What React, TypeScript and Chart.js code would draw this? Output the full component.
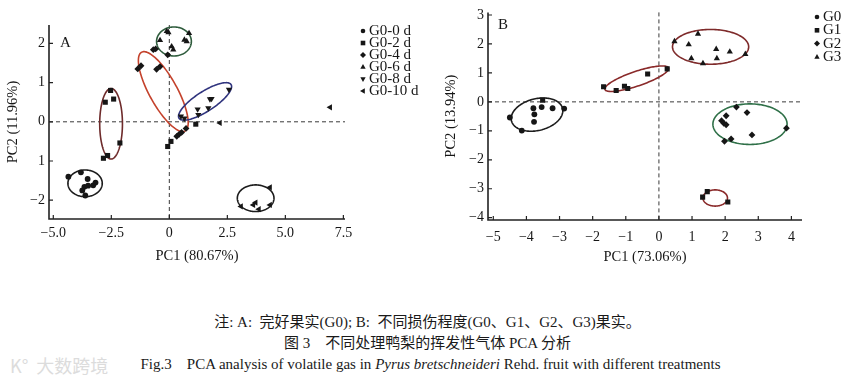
import React, { useEffect, useRef } from 'react';
import { Chart, registerables } from 'chart.js';

Chart.register(...registerables);

// ---------- Panel A data (PC1, PC2) ----------
const labelsA = ['G0-0 d', 'G0-2 d', 'G0-4 d', 'G0-6 d', 'G0-8 d', 'G0-10 d'];
const a0d = [[-4.35, -1.40], [-3.81, -1.29], [-3.52, -1.46], [-3.50, -1.63], [-3.66, -1.66], [-3.28, -1.62], [-3.18, -1.55], [-3.62, -1.88], [-3.75, -1.75]];
const a2d = [[-2.53, 0.80], [-2.76, 0.50], [-2.40, 0.58], [-2.13, -0.54], [-2.84, -0.93], [-2.66, -0.86], [-0.07, -0.63], [0.07, -0.50], [1.14, -0.06]];
const a4d = [[-1.36, 1.35], [-1.22, 1.43], [-0.55, 1.34], [-0.40, 1.41], [-0.69, 1.84], [-0.59, 1.86], [-0.07, 1.71], [0.32, -0.37], [0.42, -0.32], [0.53, -0.27], [0.72, -0.17]];
const a6d = [[-0.11, 2.31], [-0.04, 2.28], [-0.40, 2.08], [0.10, 1.92], [0.17, 1.84], [0.65, 2.09], [0.75, 2.05], [0.85, 2.26]];
const a8d = [[0.50, 0.14], [0.65, 0.09], [1.22, 0.32], [1.25, 0.18], [1.68, 0.35], [1.82, 0.59], [1.75, 0.58], [2.57, 0.82]];
const a10d = [[2.18, -0.03], [6.93, 0.37], [3.09, -2.16], [3.62, -2.12], [3.72, -2.06], [3.86, -2.23], [4.34, -2.12], [4.34, -1.67]];
const xTicksA = [-5, -2.5, 0, 2.5, 5, 7.5];
const xTickLabelsA = ['\u22125.0', '\u22122.5', '0', '2.5', '5.0', '7.5'];
const yTicksA = [2, 1, 0, -1, -2];
const yTickLabelsA = ['2', '1', '0', '1', '\u22122'];
// confidence ellipses A: centre and two semi-axis vectors (data units)
const ellipsesA = [
  { cx: -3.63, cy: -1.57, ux: 0.74, uy: 0, vx: 0, vy: 0.34 },
  { cx: -2.51, cy: -0.05, ux: 0.49, uy: 0, vx: 0, vy: 0.90 },
  { cx: -0.26, cy: 0.77, ux: 0.95, uy: -1.0, vx: 0.5, vy: 0.2 },
  { cx: 0.20, cy: 2.05, ux: 0.75, uy: 0, vx: 0, vy: 0.37 },
  { cx: 1.54, cy: 0.52, ux: 1.12, uy: 0.43, vx: 0.23, vy: -0.21 },
  { cx: 3.72, cy: -1.95, ux: 0.79, uy: 0, vx: 0, vy: 0.34 },
];

// ---------- Panel B data ----------
const labelsB = ['G0', 'G1', 'G2', 'G3'];
const bG0 = [[-4.50, -0.54], [-4.14, -0.99], [-3.79, -0.22], [-3.76, -0.43], [-3.77, -0.69], [-3.54, -0.18], [-3.21, -0.22], [-2.86, -0.23]];
const bG1 = [[-3.51, 0.06], [-1.67, 0.52], [-1.29, 0.39], [-1.04, 0.54], [-0.94, 0.46], [-0.34, 0.96], [0.25, 1.14], [1.46, -3.10], [1.32, -3.29], [2.08, -3.46]];
const bG2 = [[2.34, -0.18], [2.66, -0.37], [1.89, -0.65], [1.96, -0.74], [2.03, -0.48], [2.03, -0.79], [1.98, -1.36], [2.18, -1.28], [2.81, -1.14], [3.85, -0.91]];
const bG3 = [[0.47, 2.09], [0.90, 1.98], [1.18, 2.35], [0.98, 1.50], [1.33, 1.33], [1.73, 1.82], [1.75, 1.50], [2.14, 1.73], [2.61, 1.65]];
const xTicksB = [-5, -4, -3, -2, -1, 0, 1, 2, 3, 4];
const yTicksB = [3, 2, 1, 0, -1, -2, -3, -4];
const ellipsesB = [
  { cx: -3.68, cy: -0.44, ux: 0.77, uy: 0.22, vx: 0.12, vy: -0.53 },
  { cx: -0.67, cy: 0.80, ux: 0.96, uy: 0.37, vx: 0.07, vy: -0.24 },
  { cx: 1.70, cy: -3.32, ux: 0.37, uy: 0, vx: 0, vy: 0.28 },
  { cx: 2.75, cy: -0.77, ux: 1.12, uy: 0, vx: 0, vy: 0.70 },
  { cx: 1.56, cy: 1.90, ux: 1.15, uy: 0, vx: 0, vy: 0.60 },
];

// ---------- styles ----------
const SERIF = '"Liberation Serif", "Times New Roman", serif';
const INK = '#161616';
const ellipseColorsA = ['#1c1c1c', '#6e2b2b', '#c4422c', '#2f5c3d', '#30347e', '#1c1c1c'];
const ellipseColorsB = ['#1c1c1c', '#8a2a2a', '#8a2a2a', '#2f7048', '#7e2a2a'];
const markersA = [
  { pointStyle: 'circle', rotation: 0, radius: 2.9 },
  { pointStyle: 'rect', rotation: 0, radius: 3.6 },
  { pointStyle: 'rectRot', rotation: 0, radius: 3.4 },
  { pointStyle: 'triangle', rotation: 0, radius: 3.6 },
  { pointStyle: 'triangle', rotation: 180, radius: 3.6 },
  { pointStyle: 'triangle', rotation: 270, radius: 3.6 },
];
const markersB = [markersA[0], markersA[1], markersA[2], markersA[3]];

const toXY = (arr: number[][]) => arr.map(([x, y]) => ({ x, y }));

function drawMarker(ctx: CanvasRenderingContext2D, style: string, rot: number, x: number, y: number, r: number) {
  ctx.save();
  ctx.translate(x, y);
  ctx.rotate((rot * Math.PI) / 180);
  ctx.beginPath();
  if (style === 'circle') ctx.arc(0, 0, r, 0, Math.PI * 2);
  else if (style === 'rect') ctx.rect(-r, -r, 2 * r, 2 * r);
  else if (style === 'rectRot') {
    ctx.moveTo(0, -r * 1.3); ctx.lineTo(r * 1.3, 0); ctx.lineTo(0, r * 1.3); ctx.lineTo(-r * 1.3, 0); ctx.closePath();
  } else {
    ctx.moveTo(0, -r * 1.3); ctx.lineTo(r * 1.15, r * 0.8); ctx.lineTo(-r * 1.15, r * 0.8); ctx.closePath();
  }
  ctx.fill();
  ctx.restore();
}

type Cfg = {
  ellipses: { cx: number; cy: number; ux: number; uy: number; vx: number; vy: number }[];
  ellipseColors: string[];
  xTicks: number[];
  yTicks: number[];
  letter: string;
  letterDx: number;
  letterDy: number;
  legendLabels: string[];
  legendMarkers: { pointStyle: string; rotation: number }[];
  legendX: number;
  legendY: number;
  legendStep: number;
};

function decorPlugin(cfg: Cfg) {
  return {
    id: 'decor',
    beforeDatasetsDraw(chart: any) {
      const { ctx, chartArea: ca } = chart;
      const xs = chart.scales.x;
      const ys = chart.scales.y;
      ctx.save();
      // dashed zero lines
      ctx.strokeStyle = '#3a3a3a';
      ctx.lineWidth = 1;
      ctx.setLineDash([4, 3]);
      const x0 = xs.getPixelForValue(0);
      const y0 = ys.getPixelForValue(0);
      ctx.beginPath();
      ctx.moveTo(x0, ca.top); ctx.lineTo(x0, ca.bottom);
      ctx.moveTo(ca.left, y0); ctx.lineTo(ca.right, y0);
      ctx.stroke();
      ctx.setLineDash([]);
      // ellipses
      cfg.ellipses.forEach((e, i) => {
        ctx.strokeStyle = cfg.ellipseColors[i];
        ctx.lineWidth = 1.6;
        ctx.beginPath();
        const N = 144;
        for (let k = 0; k <= N; k++) {
          const t = (k / N) * Math.PI * 2;
          const px = xs.getPixelForValue(e.cx + e.ux * Math.cos(t) + e.vx * Math.sin(t));
          const py = ys.getPixelForValue(e.cy + e.uy * Math.cos(t) + e.vy * Math.sin(t));
          if (k === 0) ctx.moveTo(px, py); else ctx.lineTo(px, py);
        }
        ctx.closePath();
        ctx.stroke();
      });
      // axes lines
      ctx.strokeStyle = '#222';
      ctx.lineWidth = 1.6;
      ctx.beginPath();
      ctx.moveTo(ca.left, ca.top);
      ctx.lineTo(ca.left, ca.bottom);
      ctx.lineTo(ca.right, ca.bottom);
      ctx.stroke();
      // inward tick marks
      ctx.lineWidth = 1.2;
      ctx.beginPath();
      cfg.xTicks.forEach((v) => {
        const p = xs.getPixelForValue(v);
        ctx.moveTo(p, ca.bottom); ctx.lineTo(p, ca.bottom - 4);
      });
      cfg.yTicks.forEach((v) => {
        const p = ys.getPixelForValue(v);
        ctx.moveTo(ca.left, p); ctx.lineTo(ca.left + 4, p);
      });
      ctx.stroke();
      // panel letter
      ctx.fillStyle = INK;
      ctx.font = `15px ${SERIF}`;
      ctx.textBaseline = 'middle';
      ctx.textAlign = 'left';
      ctx.fillText(cfg.letter, ca.left + cfg.letterDx, ca.top + cfg.letterDy);
      ctx.restore();
    },
    afterDraw(chart: any) {
      const { ctx } = chart;
      ctx.save();
      ctx.fillStyle = INK;
      ctx.font = `15px ${SERIF}`;
      ctx.textBaseline = 'middle';
      ctx.textAlign = 'left';
      cfg.legendLabels.forEach((lab, i) => {
        const y = cfg.legendY + i * cfg.legendStep;
        const m = cfg.legendMarkers[i];
        drawMarker(ctx, m.pointStyle, m.rotation, cfg.legendX, y + 1, 2.3);
        ctx.fillText(lab, cfg.legendX + 6, y + 1);
      });
      ctx.restore();
    },
  };
}

function buildConfig(opts: {
  datasets: any[];
  xMin: number; xMax: number; yMin: number; yMax: number;
  xTicks: number[]; xLabels: string[]; yTicks: number[]; yLabels: string[];
  xTitle: string; yTitle: string;
  padding: { left: number; top: number; right: number; bottom: number };
  yWidth: number; xHeight: number; xTickPad: number;
  cfg: Cfg;
}) {
  const font = { family: SERIF, size: 14 };
  const titleFont = { family: SERIF, size: 14.5 };
  return {
    type: 'scatter' as const,
    data: { datasets: opts.datasets },
    options: {
      animation: false,
      responsive: false,
      maintainAspectRatio: false,
      devicePixelRatio: 1,
      layout: { padding: opts.padding },
      plugins: { legend: { display: false }, tooltip: { enabled: false } },
      scales: {
        x: {
          type: 'linear',
          min: opts.xMin,
          max: opts.xMax,
          grid: { display: false, drawTicks: false },
          border: { display: false },
          afterBuildTicks: (s: any) => { s.ticks = opts.xTicks.map((v) => ({ value: v })); },
          afterFit: (s: any) => { s.height = opts.xHeight; },
          ticks: {
            autoSkip: false,
            maxRotation: 0,
            padding: opts.xTickPad,
            color: INK,
            font,
            callback: (v: any) => opts.xLabels[opts.xTicks.indexOf(Number(v))] ?? '',
          },
          title: { display: true, text: opts.xTitle, color: INK, font: titleFont, padding: { top: 4, bottom: 4 } },
        },
        y: {
          type: 'linear',
          min: opts.yMin,
          max: opts.yMax,
          grid: { display: false, drawTicks: false },
          border: { display: false },
          afterBuildTicks: (s: any) => { s.ticks = opts.yTicks.map((v) => ({ value: v })); },
          afterFit: (s: any) => { s.width = opts.yWidth; },
          ticks: {
            autoSkip: false,
            padding: 4,
            color: INK,
            font,
            callback: (v: any) => opts.yLabels[opts.yTicks.indexOf(Number(v))] ?? '',
          },
          title: { display: true, text: opts.yTitle, color: INK, font: titleFont, padding: { top: 4, bottom: 4 } },
        },
      },
    },
    plugins: [decorPlugin(opts.cfg)],
  };
}

function mkDatasets(labels: string[], series: number[][][], markers: any[]) {
  return series.map((s, i) => ({
    label: labels[i],
    data: toXY(s),
    pointStyle: markers[i].pointStyle,
    rotation: markers[i].rotation,
    radius: markers[i].radius,
    backgroundColor: INK,
    borderColor: INK,
    borderWidth: 0,
  }));
}

export default function App() {
  const refA = useRef<HTMLCanvasElement>(null);
  const refB = useRef<HTMLCanvasElement>(null);

  useEffect(() => {
    const chartA = new Chart(refA.current as HTMLCanvasElement, buildConfig({
      datasets: mkDatasets(labelsA, [a0d, a2d, a4d, a6d, a8d, a10d], markersA),
      xMin: -5.185, xMax: 7.57, yMin: -2.48, yMax: 2.47,
      xTicks: xTicksA, xLabels: xTickLabelsA, yTicks: yTicksA, yLabels: yTickLabelsA,
      xTitle: 'PC1 (80.67%)', yTitle: 'PC2 (11.96%)',
      padding: { left: 0, top: 25, right: 85, bottom: 21 },
      yWidth: 49, xHeight: 50, xTickPad: 6,
      cfg: {
        ellipses: ellipsesA, ellipseColors: ellipseColorsA, xTicks: xTicksA, yTicks: yTicksA,
        letter: 'A', letterDx: 11, letterDy: 18,
        legendLabels: labelsA, legendMarkers: markersA, legendX: 363, legendY: 30, legendStep: 12,
      },
    }) as any);
    const chartB = new Chart(refB.current as HTMLCanvasElement, buildConfig({
      datasets: mkDatasets(labelsB, [bG0, bG1, bG2, bG3], markersB),
      xMin: -5.16, xMax: 4.32, yMin: -4.08, yMax: 3.09,
      xTicks: xTicksB, xLabels: xTicksB.map((v) => (v < 0 ? '\u2212' + Math.abs(v) : String(v))),
      yTicks: yTicksB, yLabels: yTicksB.map((v) => (v < 0 ? '\u2212' + Math.abs(v) : String(v))),
      xTitle: 'PC1 (73.06%)', yTitle: 'PC2 (13.94%)',
      padding: { left: 8, top: 10, right: 49, bottom: 20 },
      yWidth: 50, xHeight: 50, xTickPad: 9,
      cfg: {
        ellipses: ellipsesB, ellipseColors: ellipseColorsB, xTicks: xTicksB, yTicks: yTicksB,
        letter: 'B', letterDx: 10, letterDy: 13,
        legendLabels: labelsB, legendMarkers: markersB, legendX: 387, legendY: 16, legendStep: 13.3,
      },
    }) as any);
    return () => { chartA.destroy(); chartB.destroy(); };
  }, []);

  const cap: React.CSSProperties = {
    position: 'absolute', left: 0, width: 851, textAlign: 'center', fontFamily: `${SERIF}, "Noto Sans CJK SC"`,
    fontSize: 15, lineHeight: '16px', color: '#1a1a1a', whiteSpace: 'pre',
  };

  return (
    <div style={{ position: 'absolute', left: 0, top: 0, width: 851, height: 382, background: '#fff', overflow: 'hidden' }}>
      <canvas ref={refA} width={430} height={290} style={{ position: 'absolute', left: 0, top: 0, width: 430, height: 290 }} />
      <canvas ref={refB} width={421} height={290} style={{ position: 'absolute', left: 430, top: 0, width: 421, height: 290 }} />
      <div style={{ ...cap, top: 314, left: 2 }}>注: A:  完好果实(G0); B:  不同损伤程度(G0、G1、G2、G3)果实。</div>
      <div style={{ ...cap, top: 335, left: 2 }}>图 3　不同处理鸭梨的挥发性气体 PCA 分析</div>
      <div style={{ ...cap, top: 356, left: 5 }}>Fig.3　PCA analysis of volatile gas in <i>Pyrus bretschneideri</i> Rehd. fruit with different treatments</div>
      <div style={{ position: 'absolute', left: 10, top: 352, fontFamily: '"Noto Sans CJK SC"', fontSize: 18, color: '#dcdcdc', whiteSpace: 'pre' }}>K°  大数跨境</div>
    </div>
  );
}
